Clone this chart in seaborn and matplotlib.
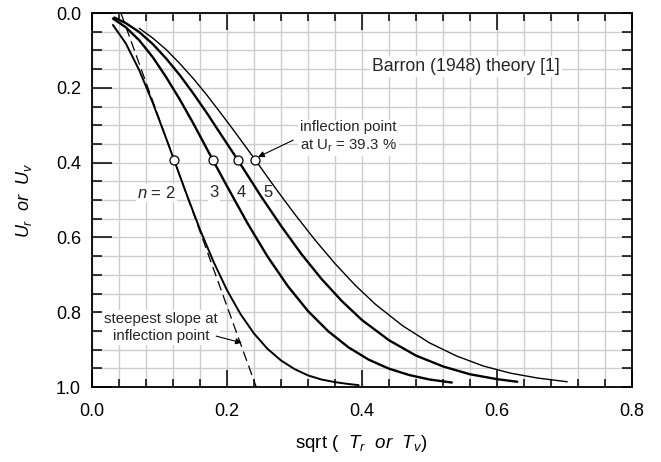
import matplotlib
matplotlib.use("Agg")
import matplotlib.pyplot as plt
import seaborn as sns
import pandas as pd
from matplotlib.ticker import MultipleLocator, FormatStrFormatter

# ---------------- data ----------------
x_n2 = [0.031, 0.05, 0.07, 0.09, 0.11, 0.1216, 0.14, 0.16, 0.18, 0.20, 0.22, 0.24,
        0.26, 0.28, 0.30, 0.32, 0.34, 0.36, 0.38, 0.395]
u_n2 = [0.032, 0.081, 0.153, 0.240, 0.336, 0.393, 0.484, 0.579, 0.665, 0.741, 0.805,
        0.857, 0.898, 0.929, 0.952, 0.969, 0.980, 0.987, 0.992, 0.995]

x_n3 = [0.031, 0.05, 0.07, 0.09, 0.11, 0.13, 0.15, 0.179, 0.20, 0.23, 0.26, 0.29, 0.32,
        0.35, 0.38, 0.41, 0.44, 0.47, 0.50, 0.533]
u_n3 = [0.015, 0.038, 0.073, 0.118, 0.172, 0.231, 0.295, 0.393, 0.463, 0.561, 0.651,
        0.730, 0.797, 0.851, 0.894, 0.927, 0.951, 0.968, 0.980, 0.988]

x_n4 = [0.033, 0.05, 0.07, 0.09, 0.11, 0.13, 0.15, 0.17, 0.19, 0.216, 0.25, 0.28, 0.31,
        0.34, 0.37, 0.40, 0.44, 0.48, 0.52, 0.56, 0.60, 0.63]
u_n4 = [0.012, 0.027, 0.051, 0.083, 0.122, 0.166, 0.215, 0.267, 0.322, 0.393, 0.489,
        0.569, 0.644, 0.711, 0.770, 0.821, 0.875, 0.916, 0.945, 0.966, 0.979, 0.986]

x_n5 = [0.07, 0.09, 0.11, 0.13, 0.15, 0.17, 0.19, 0.21, 0.242, 0.27, 0.30, 0.33, 0.36,
        0.39, 0.42, 0.46, 0.50, 0.54, 0.58, 0.62, 0.66, 0.704]
u_n5 = [0.041, 0.067, 0.098, 0.135, 0.175, 0.219, 0.266, 0.314, 0.393, 0.464, 0.537,
        0.606, 0.670, 0.728, 0.779, 0.836, 0.882, 0.917, 0.944, 0.963, 0.976, 0.986]

# inflection points (U = 39.3 %)
x_infl = [0.1216, 0.179, 0.216, 0.242]
u_infl = [0.393, 0.393, 0.393, 0.393]

# steepest-slope tangent for n = 2
x_tan = [0.0428, 0.2433]
u_tan = [0.0, 1.0]

n_labels = ["$n$ = 2", "3", "4", "5"]
n_label_x = [0.096, 0.181, 0.221, 0.261]
n_label_u = [0.481, 0.481, 0.481, 0.481]

x_ticks = [0.0, 0.2, 0.4, 0.6, 0.8]
y_ticks = [0.0, 0.2, 0.4, 0.6, 0.8, 1.0]

# ---------------- style ----------------
sns.set_theme(style="white")
plt.rcParams["font.family"] = ["Liberation Sans", "DejaVu Sans"]
plt.rcParams["mathtext.fontset"] = "custom"
plt.rcParams["mathtext.rm"] = "Liberation Sans"
plt.rcParams["mathtext.it"] = "Liberation Sans:italic"
plt.rcParams["mathtext.bf"] = "Liberation Sans:bold"

fig = plt.figure(figsize=(6.61, 4.62), dpi=100)
ax = fig.add_axes([92 / 661, (462 - 387) / 462, 540 / 661, 374 / 462])
ax.set_facecolor("white")

curves = [(x_n2, u_n2, 1.4), (x_n3, u_n3, 1.7), (x_n4, u_n4, 1.7), (x_n5, u_n5, 1.0)]
for xs, us, lw in curves:
    df = pd.DataFrame({"x": xs, "u": us})
    sns.lineplot(data=df, x="x", y="u", ax=ax, color="black", lw=lw,
                 sort=False, estimator=None, zorder=4)

df_tan = pd.DataFrame({"x": x_tan, "u": u_tan})
sns.lineplot(data=df_tan, x="x", y="u", ax=ax, color="black", lw=0.9,
             dashes=False, zorder=4).lines[-1].set_dashes((8, 4))

df_inf = pd.DataFrame({"x": x_infl, "u": u_infl})
sns.scatterplot(data=df_inf, x="x", y="u", ax=ax, s=42, facecolor="white",
                edgecolor="black", linewidth=0.9, zorder=5)

ax.set_xlim(0.0, 0.8)
ax.set_ylim(1.0, 0.0)
ax.set_xticks(x_ticks)
ax.set_yticks(y_ticks)
ax.xaxis.set_minor_locator(MultipleLocator(0.04))
ax.yaxis.set_minor_locator(MultipleLocator(0.05))
ax.xaxis.set_major_formatter(FormatStrFormatter("%.1f"))
ax.yaxis.set_major_formatter(FormatStrFormatter("%.1f"))

ax.grid(which="both", color="#cdcdcd", lw=1.0)
ax.set_axisbelow(True)

for sp in ax.spines.values():
    sp.set_color("black")
    sp.set_linewidth(1.3)
    sp.set_zorder(6)

ax.tick_params(axis="x", which="major", direction="in", top=True, bottom=True,
               length=12.4, width=1.1, color="black", labelsize=13, pad=11.5,
               labelcolor="black")
ax.tick_params(axis="x", which="minor", direction="in", top=True, bottom=True,
               length=6, width=1.1, color="black")
ax.tick_params(axis="y", which="major", direction="in", left=True, right=True,
               length=14.4, width=1.1, color="black", labelsize=13, pad=8,
               labelcolor="black")
ax.tick_params(axis="y", which="minor", direction="in", left=True, right=True,
               length=7.2, width=1.1, color="black")
for t in ax.yaxis.get_major_ticks():
    t.tick2line.set_markersize(7.2)

ax.set_xlabel(r"sqrt (  $T_r$  $or$  $T_v$)", fontsize=13.5, color="black", va="center")
ax.xaxis.set_label_coords(0.498, -0.152)
ax.set_ylabel(r"$U_r$  $or$  $U_v$", fontsize=13, color="black", va="center")
ax.yaxis.set_label_coords(-0.126, 0.5)

box = dict(facecolor="white", edgecolor="none", pad=1.5)

ax.text(0.554, 0.144, "Barron (1948) theory [1]", fontsize=12.7, ha="center",
        va="center", bbox=box, zorder=3)

ax.text(0.308, 0.332, "inflection point\nat U$_\\mathrm{r}$ = 39.3 %", fontsize=10.8,
        ha="left", va="center", linespacing=1.25, bbox=box, zorder=3)
ax.annotate("", xy=(0.246, 0.385), xytext=(0.298, 0.34),
            arrowprops=dict(arrowstyle="-|>", color="black", lw=0.8,
                            mutation_scale=9, shrinkA=0, shrinkB=0), zorder=6)

ax.text(0.102, 0.84, "steepest slope at\ninflection point", fontsize=10.8,
        ha="center", va="center", linespacing=1.25, bbox=box, zorder=3)
ax.annotate("", xy=(0.222, 0.882), xytext=(0.184, 0.864),
            arrowprops=dict(arrowstyle="-|>", color="black", lw=0.8,
                            mutation_scale=9, shrinkA=0, shrinkB=0), zorder=6)

for lab, lx, lu in zip(n_labels, n_label_x, n_label_u):
    ax.text(lx, lu, lab, fontsize=12, ha="center", va="center",
            bbox=dict(facecolor="white", edgecolor="none", pad=0.8), zorder=3)

fig.savefig("out.png", dpi=100, facecolor="white")
